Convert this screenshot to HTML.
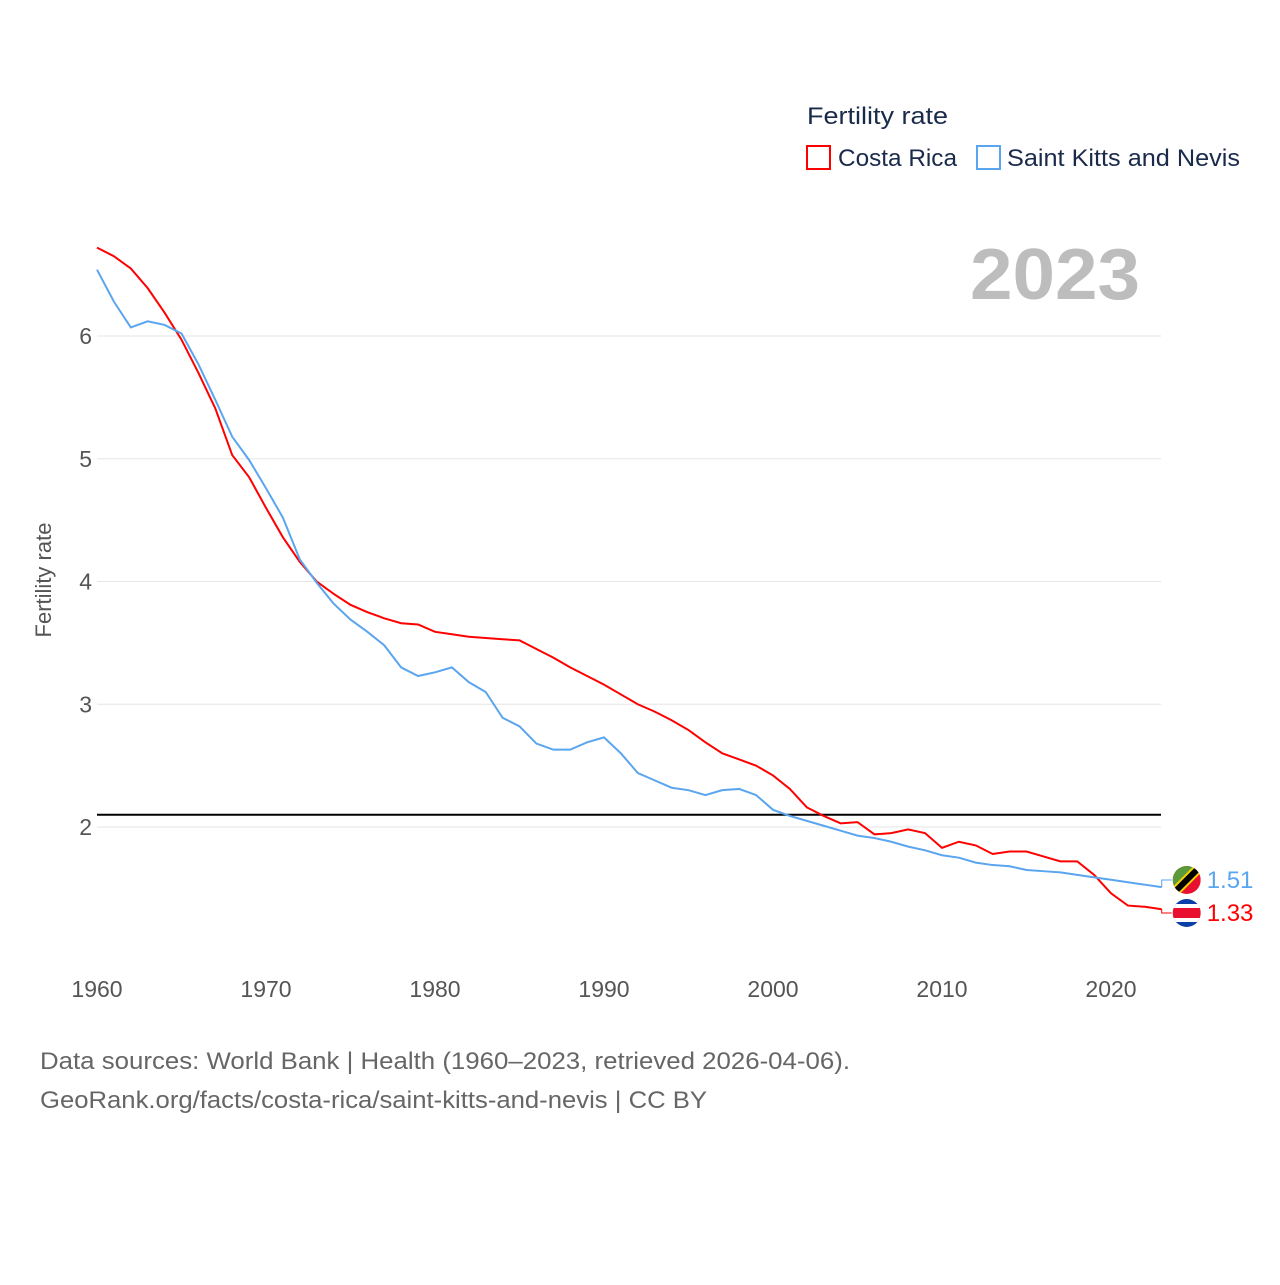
<!DOCTYPE html>
<html><head><meta charset="utf-8"><style>
body{margin:0;background:#fff;font-family:"Liberation Sans",sans-serif}
svg text{font-family:"Liberation Sans",sans-serif}
</style></head><body>
<svg id="chart" width="1280" height="1280" xmlns="http://www.w3.org/2000/svg">
<rect width="1280" height="1280" fill="#fff"/>
<text x="807" y="124" font-size="24" fill="#1a2a4a" textLength="141" lengthAdjust="spacingAndGlyphs">Fertility rate</text>
<g><rect x="807" y="146" width="23" height="23" fill="none" stroke="#f00" stroke-width="2"/><text x="838" y="166" font-size="24" fill="#1a2a4a" textLength="119" lengthAdjust="spacingAndGlyphs">Costa Rica</text></g>
<g><rect x="977" y="146" width="23" height="23" fill="none" stroke="#5aa5ef" stroke-width="2"/><text x="1007" y="166" font-size="24" fill="#1a2a4a" textLength="233" lengthAdjust="spacingAndGlyphs">Saint Kitts and Nevis</text></g>
<text x="970" y="299" font-size="72" font-weight="bold" fill="#bdbdbd" textLength="170" lengthAdjust="spacingAndGlyphs">2023</text>
<text transform="translate(51,580) rotate(-90)" font-size="22" fill="#555" text-anchor="middle">Fertility rate</text>
<g id="grid"></g><g id="marks"></g>
<text x="40" y="1069" font-size="24" fill="#666" textLength="810" lengthAdjust="spacingAndGlyphs">Data sources: World Bank | Health (1960–2023, retrieved 2026-04-06).</text>
<text x="40" y="1108" font-size="24" fill="#666" textLength="667" lengthAdjust="spacingAndGlyphs">GeoRank.org/facts/costa-rica/saint-kitts-and-nevis | CC BY</text>
</svg>
<script>
const years=[];for(let y=1960;y<=2023;y++)years.push(y);
const costaRica=[6.72,6.65,6.55,6.39,6.19,5.97,5.70,5.41,5.03,4.85,4.60,4.36,4.16,4.00,3.90,3.81,3.75,3.70,3.66,3.65,3.59,3.57,3.55,3.54,3.53,3.52,3.45,3.38,3.30,3.23,3.16,3.08,3.00,2.94,2.87,2.79,2.69,2.60,2.55,2.50,2.42,2.31,2.16,2.09,2.03,2.04,1.94,1.95,1.98,1.95,1.83,1.88,1.85,1.78,1.80,1.80,1.76,1.72,1.72,1.61,1.46,1.36,1.35,1.33];
const stKitts=[6.54,6.28,6.07,6.12,6.09,6.02,5.77,5.48,5.18,4.99,4.76,4.52,4.18,3.99,3.82,3.69,3.59,3.48,3.30,3.23,3.26,3.30,3.18,3.10,2.89,2.82,2.68,2.63,2.63,2.69,2.73,2.60,2.44,2.38,2.32,2.30,2.26,2.30,2.31,2.26,2.14,2.09,2.05,2.01,1.97,1.93,1.91,1.88,1.84,1.81,1.77,1.75,1.71,1.69,1.68,1.65,1.64,1.63,1.61,1.59,1.57,1.55,1.53,1.51];
const yTicks=[2,3,4,5,6];
const xTicks=[1960,1970,1980,1990,2000,2010,2020];
const refValue=2.1;
const X=y=>97+(y-1960)*16.9, Y=v=>827-(v-2)*122.75;
const NS="http://www.w3.org/2000/svg";
function mk(t,a,p){const e=document.createElementNS(NS,t);for(const k in a)e.setAttribute(k,a[k]);p.appendChild(e);return e;}
const grid=document.getElementById('grid'),marks=document.getElementById('marks');
yTicks.forEach(v=>{const l=mk('line',{x1:97,x2:1161,y1:Y(v),y2:Y(v),stroke:'#e6e6e6'},grid);


const t=mk('text',{x:92,y:Y(v)+8,'font-size':23,fill:'#555','text-anchor':'end'},grid);t.textContent=v;

});
xTicks.forEach(v=>{const t=mk('text',{x:X(v),y:997,'font-size':23,fill:'#555','text-anchor':'middle'},grid);t.textContent=v;

});
const ref=mk('line',{x1:97,x2:1161,y1:Y(refValue),y2:Y(refValue),stroke:'#000','stroke-width':2},marks);


function series(vals,color,name,ly,flag){
const p=mk('polyline',{points:vals.map((v,i)=>X(years[i])+','+Y(v)).join(' '),fill:'none',stroke:color,'stroke-width':2},marks);


const last=vals[vals.length-1],lx=X(years[years.length-1]);
mk('polyline',{points:`${lx},${Y(last)} ${lx},${ly} ${lx+10},${ly}`,fill:'none',stroke:color,'stroke-width':1},marks);
const g=mk('g',{},marks);


const cx=lx+25,r=14;
const cp=mk('clipPath',{id:'cp-'+name},g);mk('circle',{cx:cx,cy:ly,r:r},cp);
const inner=mk('g',{'clip-path':'url(#cp-'+name+')'},g);
if(flag==='cr'){
 mk('rect',{x:cx-r,y:ly-r,width:2*r,height:2*r,fill:'#0a3fa8'},inner);
 mk('rect',{x:cx-r,y:ly-9,width:2*r,height:18,fill:'#fff'},inner);
 mk('rect',{x:cx-r,y:ly-5,width:2*r,height:10,fill:'#e8102e'},inner);
}else{
 mk('rect',{x:cx-r,y:ly-r,width:2*r,height:2*r,fill:'#e8102e'},inner);
 mk('polygon',{points:`${cx-r},${ly-r} ${cx+r},${ly-r} ${cx-r},${ly+r}`,fill:'#5b9a3a'},inner);
 mk('line',{x1:cx-r,y1:ly+r,x2:cx+r,y2:ly-r,stroke:'#f5d000','stroke-width':10},inner);
 mk('line',{x1:cx-r,y1:ly+r,x2:cx+r,y2:ly-r,stroke:'#000','stroke-width':6},inner);
}
const t=mk('text',{x:lx+45,y:ly+8,'font-size':24,fill:color},marks);t.textContent=last.toFixed(2);

}
series(costaRica,'#f00','costa-rica',913,'cr');
series(stKitts,'#5aa5ef','saint-kitts',880,'kn');
</script>
</body></html>
